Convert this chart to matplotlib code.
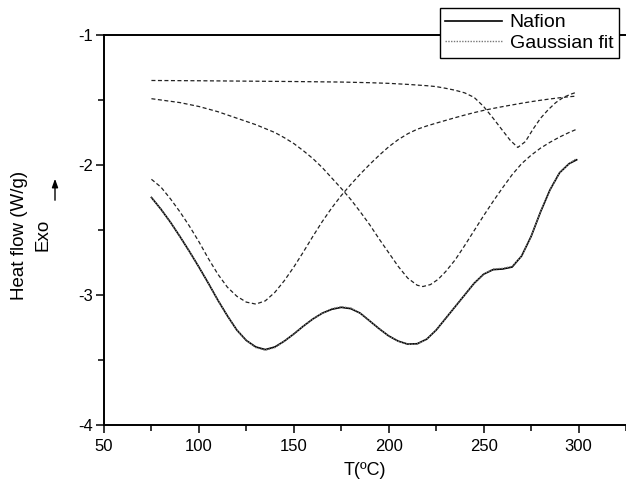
import numpy as np
from matplotlib import pyplot as plt

plt.rcParams['font.family'] = ['Liberation Sans', 'DejaVu Sans']
plt.rcParams['axes.unicode_minus'] = False

# DSC trace of Nafion (W/g vs temperature)
temp_nafion = [75, 80, 85, 90, 95, 100, 105, 110, 115, 120, 125, 130, 135, 140, 145,
               150, 155, 160, 165, 170, 175, 180, 185, 190, 195, 200, 205, 210, 215,
               220, 225, 230, 235, 240, 245, 250, 255, 260, 265, 270, 275, 280, 285,
               290, 295, 299]
heat_nafion = [-2.25, -2.34, -2.44, -2.55, -2.665, -2.785, -2.91, -3.04, -3.16, -3.27,
               -3.35, -3.40, -3.42, -3.40, -3.355, -3.30, -3.24, -3.185, -3.14, -3.11,
               -3.095, -3.105, -3.14, -3.20, -3.26, -3.315, -3.355, -3.378, -3.375,
               -3.34, -3.27, -3.18, -3.09, -3.00, -2.91, -2.84, -2.805, -2.80, -2.785,
               -2.70, -2.55, -2.36, -2.19, -2.06, -1.99, -1.96]

# sum of the three fitted gaussians
heat_fit = [-2.25, -2.34, -2.44, -2.55, -2.665, -2.785, -2.91, -3.04, -3.16, -3.27,
            -3.35, -3.405, -3.425, -3.405, -3.355, -3.30, -3.24, -3.185, -3.14, -3.105,
            -3.09, -3.10, -3.14, -3.20, -3.26, -3.315, -3.355, -3.38, -3.378,
            -3.34, -3.27, -3.18, -3.09, -3.00, -2.91, -2.84, -2.80, -2.795, -2.78,
            -2.70, -2.55, -2.36, -2.19, -2.06, -1.99, -1.95]

# individual gaussian components
temp_g1 = [75, 80, 85, 90, 95, 100, 105, 110, 115, 120, 125, 130, 135, 140, 145, 150,
           155, 160, 165, 170, 175, 180, 185, 190, 195, 200, 205, 210, 215, 220, 225,
           230, 235, 240, 245, 250, 255, 260, 265, 270, 275, 280, 285, 290, 295, 299]
heat_g1 = [-2.11, -2.17, -2.26, -2.36, -2.47, -2.59, -2.72, -2.84, -2.94, -3.01, -3.055,
           -3.07, -3.045, -2.98, -2.89, -2.785, -2.67, -2.55, -2.435, -2.33, -2.235,
           -2.15, -2.07, -1.995, -1.925, -1.86, -1.805, -1.76, -1.725, -1.70, -1.678,
           -1.657, -1.636, -1.616, -1.597, -1.58, -1.565, -1.551, -1.538, -1.525,
           -1.513, -1.502, -1.492, -1.483, -1.475, -1.47]

temp_g2 = [75, 80, 85, 90, 95, 100, 105, 110, 115, 120, 125, 130, 135, 140, 145, 150,
           155, 160, 165, 170, 175, 180, 185, 190, 195, 200, 205, 210, 215, 218, 222,
           226, 230, 235, 240, 245, 250, 255, 260, 265, 270, 275, 280, 285, 290, 295, 299]
heat_g2 = [-1.49, -1.50, -1.51, -1.52, -1.535, -1.55, -1.57, -1.59, -1.615, -1.64,
           -1.665, -1.69, -1.72, -1.75, -1.79, -1.835, -1.89, -1.95, -2.02, -2.10,
           -2.18, -2.265, -2.36, -2.46, -2.57, -2.675, -2.78, -2.87, -2.925, -2.935,
           -2.92, -2.88, -2.82, -2.73, -2.62, -2.505, -2.39, -2.28, -2.175, -2.075,
           -1.99, -1.925, -1.87, -1.825, -1.785, -1.75, -1.725]

temp_g3 = [75, 100, 125, 150, 175, 190, 200, 210, 215, 220, 225, 230, 235, 240, 245,
           250, 255, 260, 264, 268, 272, 276, 280, 284, 288, 292, 296, 299]
heat_g3 = [-1.35, -1.352, -1.355, -1.358, -1.362, -1.367, -1.372, -1.38, -1.385, -1.39,
           -1.397, -1.41, -1.425, -1.445, -1.48, -1.55, -1.64, -1.735, -1.81, -1.865,
           -1.82, -1.725, -1.64, -1.575, -1.52, -1.48, -1.455, -1.44]

fig = plt.figure(figsize=(6.26, 4.82), dpi=100)
ax = fig.add_axes([0.1661, 0.1183, 0.8339, 0.8091])

dash = dict(color='#222222', linewidth=0.9, linestyle=(0, (3.2, 2.0)))
ax.plot(temp_g1, heat_g1, **dash)
ax.plot(temp_g2, heat_g2, **dash)
ax.plot(temp_g3, heat_g3, **dash)

ax.plot(temp_nafion, heat_nafion, color='black', linewidth=1.2, label='Nafion')
ax.plot(temp_nafion, heat_fit, color='#777777', linewidth=1.0,
        linestyle=(0, (1, 1)), label='Gaussian fit')

ax.set_xlim(50, 320)
ax.set_ylim(-4, -1)
ax.set_xticks(np.arange(50, 301, 50))
ax.set_xticks(np.arange(75, 326, 50), minor=True)
ax.set_yticks([-4, -3, -2, -1])
ax.set_yticks([-3.5, -2.5, -1.5], minor=True)
ax.tick_params(which='major', direction='out', length=6, width=1.1, labelsize=12)
ax.tick_params(which='minor', direction='out', length=4, width=1.1)
ax.tick_params(axis='x', pad=4)
ax.tick_params(axis='y', pad=2)

ax.spines['right'].set_visible(False)
for side in ('left', 'bottom', 'top'):
    ax.spines[side].set_linewidth(1.4)

ax.set_xlabel('T(ºC)', fontsize=13, labelpad=6)

fig.text(20 / 626, 1 - 235 / 482, 'Heat flow (W/g)', rotation=90,
         ha='center', va='center', fontsize=13.5)
fig.text(43 / 626, 1 - 235 / 482, 'Exo', rotation=90,
         ha='center', va='center', fontsize=13.5)
ax.annotate('', xy=(55 / 626, 1 - 176 / 482), xytext=(55 / 626, 1 - 203 / 482),
            xycoords='figure fraction', textcoords='figure fraction',
            arrowprops=dict(arrowstyle='-|>,head_length=0.5,head_width=0.18',
                            color='black', linewidth=1.0))

leg = ax.legend(loc='upper right', bbox_to_anchor=(619 / 626, 1 - 8 / 482),
                bbox_transform=fig.transFigure, fontsize=14, frameon=True,
                fancybox=False, edgecolor='black', framealpha=1.0,
                handlelength=2.9, handletextpad=0.4, borderpad=0.3,
                labelspacing=0.15, borderaxespad=0)
leg.get_frame().set_linewidth(1.0)

fig.savefig('out.png', dpi=100)
